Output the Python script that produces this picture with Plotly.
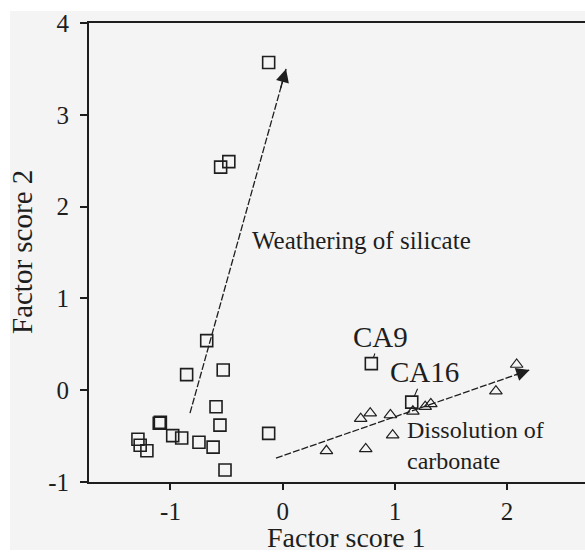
import plotly.graph_objects as go

# Squares (silicate-weathering group, incl. CA9 and CA16)
sq_x = [-0.125, -0.553, -0.48, -0.677, -0.856, -0.53, -0.594, -0.559, -1.10, -1.09,
        -0.98, -0.90, -1.29, -1.27, -1.21, -0.746, -0.62, -0.514, -0.125, 0.79, 1.15]
sq_y = [3.57, 2.43, 2.49, 0.54, 0.17, 0.22, -0.18, -0.38, -0.36, -0.35,
        -0.495, -0.52, -0.535, -0.60, -0.66, -0.567, -0.62, -0.87, -0.47, 0.29, -0.13]

# Triangles (carbonate dissolution group)
tri_x = [2.085, 1.90, 1.32, 1.27, 1.16, 0.96, 0.78, 0.695, 0.98, 0.74, 0.39]
tri_y = [0.28, -0.01, -0.15, -0.18, -0.23, -0.27, -0.25, -0.31, -0.49, -0.64, -0.66]

# Trend arrows (start, end)
sil_arrow_x = [-0.826, 0.03]
sil_arrow_y = [-0.25, 3.50]
carb_arrow_x = [-0.06, 2.20]
carb_arrow_y = [-0.74, 0.22]

# Labelled samples
lab_names = ["CA9", "CA16"]
lab_px = [0.79, 1.15]
lab_py = [0.29, -0.13]
lab_tx = [0.873, 1.266]
lab_ty = [0.58, 0.196]

x_ticks = [-1, 0, 1, 2]
y_ticks = [-1, 0, 1, 2, 3, 4]

FONT = "Liberation Serif"
INK = "#1e1e1e"

fig = go.Figure()

for ax_, ay_ in [(sil_arrow_x, sil_arrow_y), (carb_arrow_x, carb_arrow_y)]:
    fig.add_trace(go.Scatter(x=ax_, y=ay_, mode="lines",
                             line=dict(color=INK, width=1.3, dash="7px,2px"),
                             hoverinfo="skip", showlegend=False))

fig.add_trace(go.Scatter(x=sq_x, y=sq_y, mode="markers",
                         marker=dict(symbol="square-open", size=12,
                                     line=dict(color=INK, width=1.6), color=INK),
                         showlegend=False))
fig.add_trace(go.Scatter(x=tri_x, y=tri_y, mode="markers",
                         marker=dict(symbol="triangle-up-open", size=11,
                                     line=dict(color=INK, width=1.2), color=INK),
                         showlegend=False))

annotations = []
# arrow heads
for ax_, ay_ in [(sil_arrow_x, sil_arrow_y), (carb_arrow_x, carb_arrow_y)]:
    bx = ax_[1] - 0.06 * (ax_[1] - ax_[0])
    by = ay_[1] - 0.06 * (ay_[1] - ay_[0])
    annotations.append(dict(x=ax_[1], y=ay_[1], ax=bx, ay=by, axref="x", ayref="y",
                            xref="x", yref="y", text="", showarrow=True,
                            arrowhead=2, arrowsize=1.9, arrowwidth=1.4,
                            arrowcolor=INK))

for n, px, py, tx, ty in zip(lab_names, lab_px, lab_py, lab_tx, lab_ty):
    annotations.append(dict(x=px, y=py, ax=tx, ay=ty, axref="x", ayref="y",
                            xref="x", yref="y", text=n, showarrow=True,
                            arrowhead=0, arrowwidth=1.1, arrowcolor=INK,
                            standoff=6, borderpad=0,
                            font=dict(family=FONT, size=29, color=INK)))

annotations.append(dict(x=-0.29, y=1.636, xref="x", yref="y", xanchor="left",
                        yanchor="middle", text="Weathering of silicate",
                        showarrow=False, font=dict(family=FONT, size=25, color=INK)))
annotations.append(dict(x=1.09, y=-0.60, xref="x", yref="y", xanchor="left",
                        yanchor="middle", align="left",
                        text="Dissolution of<br>carbonate",
                        showarrow=False, font=dict(family=FONT, size=24, color=INK)))

# Axis titles (positions given in pixels, converted below)
annotations.append(dict(x=346, y=553 - 537, xref="paper", yref="paper",
                        xanchor="center", yanchor="middle",
                        text="Factor score 1", showarrow=False,
                        font=dict(family=FONT, size=28, color=INK)))
annotations.append(dict(x=22, y=553 - 252, xref="paper", yref="paper",
                        xanchor="center", yanchor="middle",
                        text="Factor score 2", showarrow=False, textangle=-90,
                        font=dict(family=FONT, size=29, color=INK)))

L, R, T, B = 89, 0, 23, 71
W, H = 585, 553
pw, ph = W - L - R, H - T - B
for a in annotations[-2:]:
    a["x"] = (a["x"] - L) / pw
    a["y"] = (a["y"] - B) / ph

shapes = [
    dict(type="rect", xref="paper", yref="paper",
         x0=(0 - L) / pw, x1=(10 - L) / pw, y0=(0 - B) / ph, y1=(H - B) / ph,
         fillcolor="white", line=dict(width=0), layer="below"),
    dict(type="rect", xref="paper", yref="paper",
         x0=(0 - L) / pw, x1=(W - L) / pw, y0=(H - 11 - B) / ph, y1=(H - B) / ph,
         fillcolor="white", line=dict(width=0), layer="below"),
    dict(type="rect", xref="paper", yref="paper",
         x0=(0 - L) / pw, x1=(W - L) / pw, y0=(0 - B) / ph, y1=(3 - B) / ph,
         fillcolor="white", line=dict(width=0), layer="below"),
]

fig.update_layout(
    width=W, height=H,
    margin=dict(l=L, r=R, t=T, b=B, pad=0),
    paper_bgcolor="#f4f4f4", plot_bgcolor="#f4f4f4",
    font=dict(family=FONT, color=INK),
    annotations=annotations, shapes=shapes,
    xaxis=dict(range=[-1.726, 2.694], tickvals=x_ticks,
               ticktext=[str(v) for v in x_ticks],
               showgrid=False, zeroline=False, showline=True, linecolor=INK,
               linewidth=2, mirror=True, ticks="outside", ticklen=6,
               tickwidth=1.5, tickcolor=INK, ticklabelstandoff=0,
               tickfont=dict(family=FONT, size=25, color=INK)),
    yaxis=dict(range=[-1, 4], tickvals=y_ticks,
               ticktext=[str(v) for v in y_ticks],
               showgrid=False, zeroline=False, showline=True, linecolor=INK,
               linewidth=2, mirror=False, ticks="outside", ticklen=7,
               tickwidth=1.5, tickcolor=INK, ticklabelstandoff=6,
               tickfont=dict(family=FONT, size=25, color=INK)),
)

fig.write_html("out.html")
